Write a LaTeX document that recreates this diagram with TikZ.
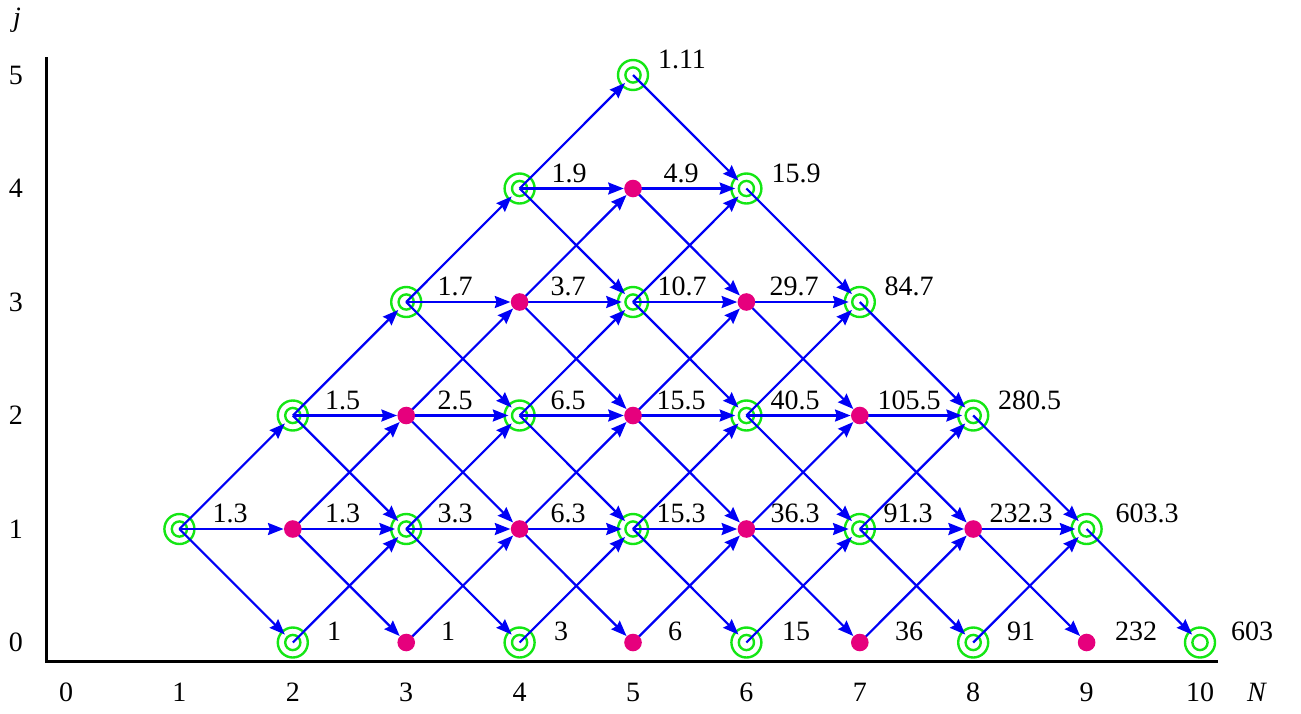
\documentclass[tikz,border=0pt]{standalone}
\usepackage{fontspec}
\setmainfont{Liberation Serif}
\usetikzlibrary{arrows.meta}
\pgfdeclarelayer{front}
\pgfsetlayers{main,front}
\definecolor{ringgreen}{RGB}{20,230,20}
\definecolor{dotmag}{RGB}{230,0,125}
\definecolor{edgeblue}{RGB}{0,0,245}
\tikzset{
 ringnode/.style={circle, draw=ringgreen, line width=1.2pt, inner sep=0pt, minimum size=15pt,
   path picture={\draw[ringgreen, line width=1.2pt] (path picture bounding box.center) circle[radius=3.8pt];}},
 dotnode/.style={circle, fill=dotmag, inner sep=0pt, minimum size=8.8pt},
 edgeline/.style={draw=edgeblue, line width=1.1pt, -{Stealth[length=7.8pt,width=6pt,inset=0.9pt]}},
 valtext/.style={anchor=base, inner sep=0pt, font=\fontsize{14}{16}\selectfont},
 ticktext/.style={font=\fontsize{14}{16}\selectfont},
 axisline/.style={line width=1.5pt, draw=black}
}
\begin{document}
\begin{tikzpicture}[x=0.5pt,y=-0.5pt]
\useasboundingbox (0,0) rectangle (1301,713);
% axes
\coordinate (ytop) at (46.5,57);
\coordinate (origin) at (46.5,661);
\coordinate (xend) at (1218,661);
\draw[axisline] (ytop) -- (origin) -- (xend);
\foreach \n in {0,...,10}{\node[ticktext] (tx\n) at ({66+113.4*\n},692) {\n};}
\foreach \j in {0,...,5}{\node[ticktext] (ty\j) at (16,{642.5-113.5*\j}) {\j};}
\node[ticktext] (jlab) at (17,20) {\textit{j}};
\node[ticktext] (Nlab) at (1257,692) {\textit{N}};
% nodes
\foreach \n/\j/\t/\lx in {
 1/1/1.3/230,
 2/0/1/334, 2/1/1.3/342.5, 2/2/1.5/342.5,
 3/0/1/448, 3/1/3.3/455, 3/2/2.5/455, 3/3/1.7/455,
 4/0/3/561, 4/1/6.3/568, 4/2/6.5/568, 4/3/3.7/568, 4/4/1.9/569,
 5/0/6/675, 5/1/15.3/681, 5/2/15.5/681, 5/3/10.7/682, 5/4/4.9/681, 5/5/1.11/682,
 6/0/15/796, 6/1/36.3/795, 6/2/40.5/795, 6/3/29.7/794, 6/4/15.9/796,
 7/0/36/909, 7/1/91.3/908, 7/2/105.5/909, 7/3/84.7/909,
 8/0/91/1021, 8/1/232.3/1021, 8/2/280.5/1029.5,
 9/0/232/1136, 9/1/603.3/1147,
 10/0/603/1252}{
 \pgfmathsetmacro\px{66+113.4*\n}
 \pgfmathsetmacro\py{642.5-113.5*\j}
 \pgfmathtruncatemacro\tp{mod(\n+\j,2)}
 \ifnum\tp=0
   \node[ringnode] (n\n-\j) at (\px,\py) {};
 \else
   \begin{pgfonlayer}{front}\node[dotnode] (n\n-\j) at (\px,\py) {};\end{pgfonlayer}
 \fi
 \ifnum\j=0 \pgfmathsetmacro\ly{\py-2.5}\else\pgfmathsetmacro\ly{\py-6.5}\fi
 \node[valtext] (l\n-\j) at (\lx,\ly) {\t};
}
% edges
\foreach \a/\b/\c/\d in {
 1/1/2/2, 1/1/2/1, 1/1/2/0,
 2/0/3/1,
 2/1/3/2, 2/1/3/1, 2/1/3/0,
 2/2/3/3, 2/2/3/2, 2/2/3/1,
 3/0/4/1,
 3/1/4/2, 3/1/4/1, 3/1/4/0,
 3/2/4/3, 3/2/4/2, 3/2/4/1,
 3/3/4/4, 3/3/4/3, 3/3/4/2,
 4/0/5/1,
 4/1/5/2, 4/1/5/1, 4/1/5/0,
 4/2/5/3, 4/2/5/2, 4/2/5/1,
 4/3/5/4, 4/3/5/3, 4/3/5/2,
 4/4/5/5, 4/4/5/4, 4/4/5/3,
 5/0/6/1,
 5/1/6/2, 5/1/6/1, 5/1/6/0,
 5/2/6/3, 5/2/6/2, 5/2/6/1,
 5/3/6/4, 5/3/6/3, 5/3/6/2,
 5/4/6/4, 5/4/6/3,
 5/5/6/4,
 6/0/7/1,
 6/1/7/2, 6/1/7/1, 6/1/7/0,
 6/2/7/3, 6/2/7/2, 6/2/7/1,
 6/3/7/3, 6/3/7/2,
 6/4/7/3,
 7/0/8/1,
 7/1/8/2, 7/1/8/1, 7/1/8/0,
 7/2/8/2, 7/2/8/1,
 7/3/8/2,
 8/0/9/1,
 8/1/9/1, 8/1/9/0,
 8/2/9/1,
 9/1/10/0}{
 \pgfmathtruncatemacro\tq{mod(\c+\d,2)}
 \ifnum\tq=0
   \draw[edgeline, shorten >=-2.5pt] (n\a-\b.center) -- (n\c-\d);
 \else
   \draw[edgeline] (n\a-\b.center) -- (n\c-\d);
 \fi
}
\end{tikzpicture}
\end{document}
